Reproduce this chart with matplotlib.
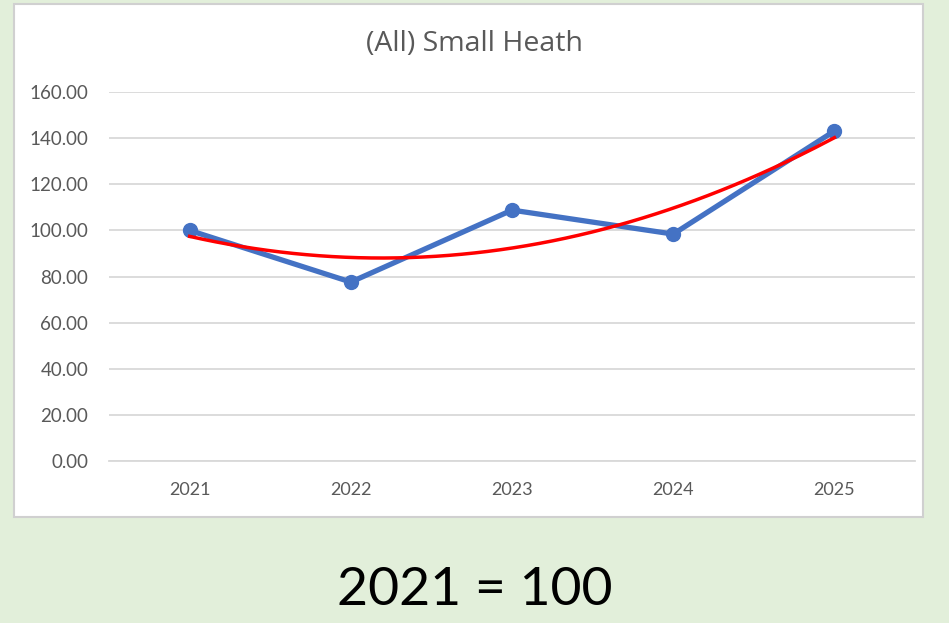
import numpy as np
import matplotlib.pyplot as plt
from matplotlib.patches import Rectangle

# data (index, 2021 = 100)
years = ['2021', '2022', '2023', '2024', '2025']
index_vals = [100.0, 77.6, 108.8, 98.4, 143.1]
yticks = [0, 20, 40, 60, 80, 100, 120, 140, 160]

plt.rcParams['font.family'] = ['Lato', 'DejaVu Sans']

fig = plt.figure(figsize=(9.49, 6.23), dpi=100)
fig.patch.set_facecolor('#E2EFDA')

# white chart box
box = Rectangle((0.0148, 0.1701), 0.9578, 0.8235, transform=fig.transFigure,
                facecolor='white', edgecolor='#D0D0D0', linewidth=1.5, zorder=-1)
fig.patches.append(box)

ax = fig.add_axes([0.1149, 0.26, 0.8493, 0.5923])
ax.set_zorder(2)
ax.set_facecolor('none')

x = np.arange(len(years))
ax.plot(x, index_vals, color='#4472C4', linewidth=3.8, marker='o',
        markersize=10, clip_on=False, zorder=3)

# polynomial (order 2) trendline, like Excel's
coef = np.polyfit(x, index_vals, 2)
xs = np.linspace(0, len(years) - 1, 200)
ax.plot(xs, np.polyval(coef, xs), color='#FF0000', linewidth=2.5,
        clip_on=False, zorder=4)

ax.set_xlim(-0.5, len(years) - 0.5)
ax.set_ylim(0, 160)
ax.set_yticks(yticks)
ax.set_yticklabels(['%.2f' % v for v in yticks])
ax.set_xticks(x)
ax.set_xticklabels(years)

ax.grid(axis='y', color='#D9D9D9', linewidth=1.3)
ax.set_axisbelow(True)
for s in ['top', 'right', 'left']:
    ax.spines[s].set_visible(False)
ax.spines['bottom'].set_color('#D9D9D9')
ax.spines['bottom'].set_linewidth(1.3)
ax.tick_params(axis='y', length=0, labelsize=13.5, labelcolor='#595959', pad=15)
ax.tick_params(axis='x', length=0, labelsize=13, labelcolor='#595959', pad=15)

fig.text(0.5, 0.929, '(All) Small Heath', ha='center', va='center',
         fontsize=20.5, color='#595959', family=['Open Sans', 'DejaVu Sans'])
fig.text(0.5, 0.0514, '2021 = 100', ha='center', va='center',
         fontsize=38.5, color='black')

fig.savefig('out.png', dpi=100, facecolor=fig.get_facecolor())
